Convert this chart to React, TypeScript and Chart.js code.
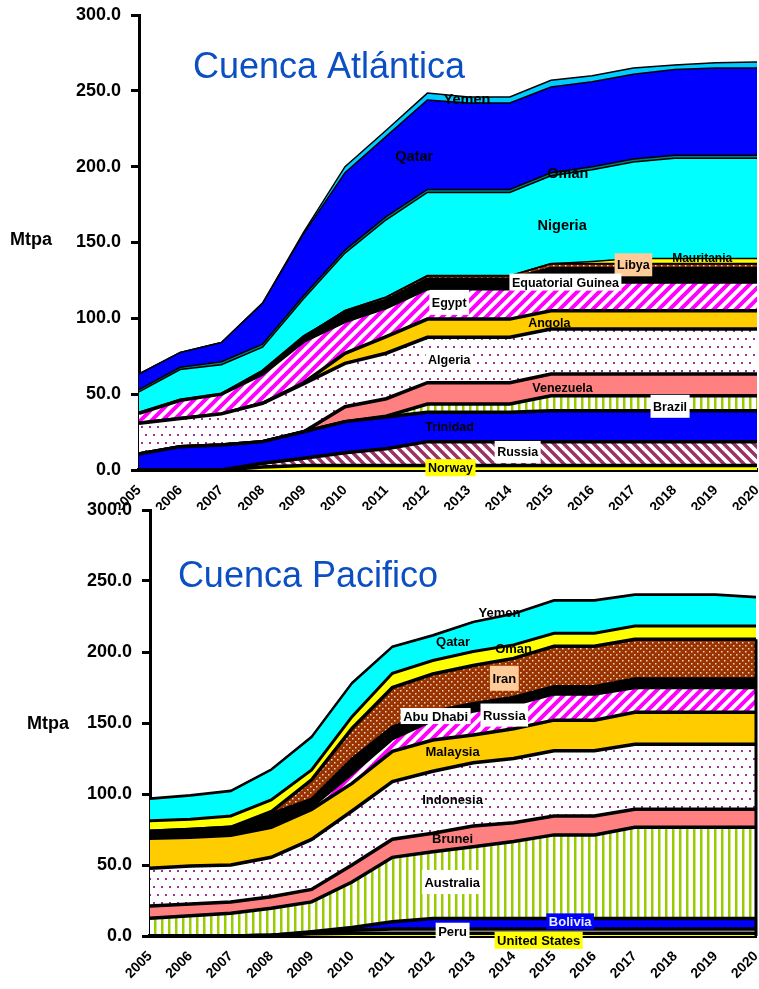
import React, { useEffect, useRef } from 'react';
import { Chart, registerables } from 'chart.js';

Chart.register(...registerables);

const FONT = '"Liberation Sans", Arial, Helvetica, sans-serif';

const years = ['2005', '2006', '2007', '2008', '2009', '2010', '2011', '2012', '2013', '2014', '2015', '2016', '2017', '2018', '2019', '2020'];
const yMin = 0;
const yMax = 300;
const yStep = 50;

// ---- Cuenca Atlántica (Mtpa) ----
const atlNorway = [0, 0, 0, 2, 3, 3, 3, 3, 3, 3, 3, 3, 3, 3, 3, 3];
const atlRussia = [0, 0, 0, 2.4, 4.7, 8.4, 11, 15.7, 15.7, 15.7, 15.7, 15.7, 15.7, 15.7, 15.7, 15.7];
const atlTrinidad = [10.5, 15.4, 16.5, 14.3, 17.5, 20.5, 21, 19.3, 19.3, 19.3, 20.3, 20.3, 20.3, 20.3, 20.3, 20.3];
const atlBrazil = [0, 0, 0, 0, 0, 0, 0.5, 5.5, 5.5, 5.5, 10, 10, 10, 10, 10, 10];
const atlVenezuela = [0, 0, 0, 0, 0, 9.8, 11.5, 14.1, 14.1, 14.1, 14.3, 14.3, 14.3, 14.3, 14.3, 14.3];
const atlAlgeria = [20.3, 18.6, 20.5, 25.3, 31.8, 28.6, 30, 29.9, 29.9, 29.9, 29.7, 29.7, 29.7, 29.7, 29.7, 29.7];
const atlAngola = [0, 0, 0, 0, 0.5, 6.6, 11, 12, 12, 12, 12, 12, 12, 12, 12, 12];
const atlEgypt = [6.6, 12, 13, 19.3, 27.5, 21.1, 19, 20, 20, 20, 19, 19, 19, 19, 19, 19];
const atlEqGuinea = [0, 0, 0, 2, 3, 6, 5, 6.5, 6.5, 6.5, 9, 9, 9, 9, 9, 9];
const atlLibya = [0, 0, 0, 0, 0, 1, 2, 2, 2, 2, 3, 3, 3, 3, 3, 3];
const atlMauritania = [0, 0, 0, 0, 0, 0, 0, 0, 0, 0, 0, 1.5, 3.5, 3.5, 3.5, 3.5];
const atlNigeria = [14.1, 20.2, 19.4, 15.7, 25, 38, 51, 55, 55, 55, 58, 60.5, 63.5, 66.1, 66.1, 66.1];
const atlOman = [1.5, 1.5, 2, 2, 2, 2, 2, 2, 2, 2, 2, 2, 2, 2, 2, 2];
const atlQatar = [10.3, 9.8, 12.6, 27, 41, 51, 53, 59, 57, 57, 56.5, 56, 56, 56.4, 57.4, 57.4];
const atlYemen = [0, 0, 0, 0, 1, 4, 4, 4.5, 4, 4, 4.5, 4, 4, 3, 3.5, 4];

// ---- Cuenca Pacifico (Mtpa) ----
const pacUS = [0, 0, 0, 0.5, 1.5, 2, 2, 2, 2, 2, 2, 2, 2, 2, 2, 2];
const pacPeru = [0, 0, 0, 0, 1, 2, 3, 3, 3, 3, 3, 3, 3, 3, 3, 3];
const pacBolivia = [0, 0, 0, 0, 0.5, 2, 5, 7.4, 7.4, 7.4, 7.4, 7.4, 7.4, 7.4, 7.4, 7.4];
const pacAustralia = [12.5, 14.3, 16, 19, 21, 32, 45.4, 47, 50.5, 54.1, 58.8, 58.8, 64.1, 64.1, 64.1, 64.1];
const pacBrunei = [8.6, 8.2, 8, 8.2, 8.8, 12, 12.7, 12.9, 14.6, 13.3, 13.3, 13.3, 12.7, 12.7, 12.7, 12.7];
const pacIndonesia = [26.6, 26.8, 26, 27.7, 35.2, 38, 40.6, 43.7, 44.5, 45.2, 46, 46, 45.8, 45.8, 45.8, 45.8];
const pacMalaysia = [21.1, 20.2, 21, 21.1, 21.2, 19.5, 21.3, 22, 19.5, 21, 21.5, 21.5, 22.5, 22.5, 22.5, 22.5];
const pacRussia = [0, 0, 0, 1.5, 2, 7, 9, 14, 17, 17, 18.5, 18.5, 17.5, 17.5, 17.5, 17.5];
const pacAbuDhabi = [5, 5.5, 5.5, 8, 5, 10, 8, 6, 5, 5, 5, 5, 6, 6, 6, 6];
const pacIran = [0, 0, 0, 1.5, 13.8, 21.7, 28, 26.5, 27, 27.5, 28.5, 28.5, 28, 28, 28, 28];
const pacOman = [7.4, 7.2, 8, 8.3, 6.9, 8.3, 10, 9.5, 9.8, 9.5, 9.2, 9.2, 9.3, 9.3, 9.3, 9.3];
const pacQatar = [15.3, 16.6, 17.4, 21.1, 23, 23.4, 18.5, 17.5, 20.6, 21.7, 22.9, 22.9, 21.8, 21.8, 21.8, 20.1];
const pacYemen = [0.5, 0.5, 0.5, 0.5, 0.5, 0.5, 0.5, 0.5, 0.5, 0.5, 0.5, 0.5, 0.5, 0.5, 0.5, 0.5];

type Fill = string;
type Series = { label: string; data: number[]; fill: Fill; border: number };

const atlSeries: Series[] = [
  { label: 'Norway', data: atlNorway, fill: 'yellow', border: 3.5 },
  { label: 'Russia', data: atlRussia, fill: 'maroonDown', border: 3.5 },
  { label: 'Trinidad', data: atlTrinidad, fill: 'blue', border: 3.5 },
  { label: 'Brazil', data: atlBrazil, fill: 'greenVert', border: 3.5 },
  { label: 'Venezuela', data: atlVenezuela, fill: 'salmon', border: 3.5 },
  { label: 'Algeria', data: atlAlgeria, fill: 'purpleDots', border: 3.5 },
  { label: 'Angola', data: atlAngola, fill: 'gold', border: 3.5 },
  { label: 'Egypt', data: atlEgypt, fill: 'magentaUp', border: 3.5 },
  { label: 'Equatorial Guinea', data: atlEqGuinea, fill: 'black', border: 3 },
  { label: 'Libya', data: atlLibya, fill: 'brownDots', border: 2 },
  { label: 'Mauritania', data: atlMauritania, fill: 'yellow', border: 1.5 },
  { label: 'Nigeria', data: atlNigeria, fill: 'cyan', border: 1.5 },
  { label: 'Oman', data: atlOman, fill: 'teal', border: 1.5 },
  { label: 'Qatar', data: atlQatar, fill: 'blue', border: 1.5 },
  { label: 'Yemen', data: atlYemen, fill: 'sky', border: 1.5 },
];

const pacSeries: Series[] = [
  { label: 'United States', data: pacUS, fill: 'yellow', border: 3.5 },
  { label: 'Peru', data: pacPeru, fill: 'white', border: 3.5 },
  { label: 'Bolivia', data: pacBolivia, fill: 'blue', border: 3.5 },
  { label: 'Australia', data: pacAustralia, fill: 'greenVert', border: 3.5 },
  { label: 'Brunei', data: pacBrunei, fill: 'salmon', border: 3.5 },
  { label: 'Indonesia', data: pacIndonesia, fill: 'purpleDots', border: 3.5 },
  { label: 'Malaysia', data: pacMalaysia, fill: 'gold', border: 3.5 },
  { label: 'Russia', data: pacRussia, fill: 'magentaUp', border: 3.5 },
  { label: 'Abu Dhabi', data: pacAbuDhabi, fill: 'black', border: 3.5 },
  { label: 'Iran', data: pacIran, fill: 'brownDots', border: 3.5 },
  { label: 'Oman', data: pacOman, fill: 'yellow', border: 3 },
  { label: 'Qatar', data: pacQatar, fill: 'cyan', border: 2 },
  { label: 'Yemen', data: pacYemen, fill: 'darkPurple', border: 2 },
];

// annotations: text placed at (category index, value)
type Note = { text: string; x: number; v: number; size: number; bg?: string; color?: string; h?: number };

const atlNotes: Note[] = [
  { text: 'Yemen', x: 7.96, v: 244.6, size: 14.5 },
  { text: 'Qatar', x: 6.68, v: 207, size: 14.5 },
  { text: 'Oman', x: 10.41, v: 195.6, size: 14.5 },
  { text: 'Nigeria', x: 10.27, v: 161.5, size: 14.5 },
  { text: 'Mauritania', x: 13.67, v: 140.2, size: 12 },
  { text: 'Libya', x: 12.0, v: 135.3, size: 12.5, bg: '#ffcc99', h: 23 },
  { text: 'Equatorial Guinea', x: 10.35, v: 123.9, size: 12.5, bg: '#ffffff', h: 17 },
  { text: 'Egypt', x: 7.53, v: 110.5, size: 12.5, bg: '#ffffff', h: 25 },
  { text: 'Angola', x: 9.96, v: 97.1, size: 12.5 },
  { text: 'Algeria', x: 7.53, v: 72.5, size: 12.5, bg: '#ffffff', h: 20 },
  { text: 'Venezuela', x: 10.28, v: 54.5, size: 12.5 },
  { text: 'Brazil', x: 12.89, v: 42, size: 12.5, bg: '#ffffff', h: 23 },
  { text: 'Trinidad', x: 7.54, v: 28.5, size: 12.5 },
  { text: 'Russia', x: 9.19, v: 11.9, size: 12.5, bg: '#ffffff', h: 22 },
  { text: 'Norway', x: 7.56, v: 1.5, size: 12.5, bg: '#ffff00', h: 17 },
];

const pacNotes: Note[] = [
  { text: 'Yemen', x: 8.65, v: 227.7, size: 13 },
  { text: 'Qatar', x: 7.5, v: 207.3, size: 13 },
  { text: 'Oman', x: 9.0, v: 202.6, size: 13 },
  { text: 'Iran', x: 8.77, v: 181.5, size: 13, bg: '#ffcc99', h: 25 },
  { text: 'Abu Dhabi', x: 7.07, v: 154.9, size: 13, bg: '#ffffff', h: 16 },
  { text: 'Russia', x: 8.77, v: 155.6, size: 13, bg: '#ffffff', h: 23 },
  { text: 'Malaysia', x: 7.49, v: 129.8, size: 13 },
  { text: 'Indonesia', x: 7.49, v: 96.3, size: 13 },
  { text: 'Brunei', x: 7.49, v: 68.8, size: 13 },
  { text: 'Australia', x: 7.48, v: 38, size: 13, bg: '#ffffff', h: 24 },
  { text: 'Bolivia', x: 10.4, v: 10.3, size: 13, bg: '#0000ff', color: '#e8f0ff', h: 16 },
  { text: 'Peru', x: 7.49, v: 3.0, size: 13, bg: '#ffffff', h: 18 },
  { text: 'United States', x: 9.62, v: -3.0, size: 13, bg: '#ffff00', h: 17 },
];

function tile(ctx: CanvasRenderingContext2D, w: number, h: number, paint: (g: CanvasRenderingContext2D) => void) {
  const c = document.createElement('canvas');
  c.width = w;
  c.height = h;
  const g = c.getContext('2d') as CanvasRenderingContext2D;
  paint(g);
  return ctx.createPattern(c, 'repeat') as CanvasPattern;
}

function diag(ctx: CanvasRenderingContext2D, color: string, up: boolean, size: number, width: number) {
  return tile(ctx, size, size, (g) => {
    g.fillStyle = '#ffffff';
    g.fillRect(0, 0, size, size);
    g.strokeStyle = color;
    g.lineWidth = width;
    g.beginPath();
    for (const o of [-size, 0, size]) {
      if (up) {
        g.moveTo(o - 1, size + 1);
        g.lineTo(o + size + 1, -1);
      } else {
        g.moveTo(o - 1, -1);
        g.lineTo(o + size + 1, size + 1);
      }
    }
    g.stroke();
  });
}

function makeFills(ctx: CanvasRenderingContext2D): Record<string, string | CanvasPattern> {
  return {
    yellow: '#ffff00',
    white: '#ffffff',
    blue: '#0000ff',
    salmon: '#ff8080',
    gold: '#ffcc00',
    black: '#000000',
    cyan: '#00ffff',
    teal: '#008080',
    sky: '#00ccff',
    darkPurple: '#330033',
    maroonDown: diag(ctx, '#993366', false, 10, 3.5),
    magentaUp: diag(ctx, '#ff00ff', true, 11, 4),
    greenVert: tile(ctx, 7, 4, (g) => {
      g.fillStyle = '#ffffff';
      g.fillRect(0, 0, 7, 4);
      g.fillStyle = '#99cc00';
      g.fillRect(0, 0, 2.5, 4);
    }),
    purpleDots: tile(ctx, 8, 16, (g) => {
      g.fillStyle = '#ffffff';
      g.fillRect(0, 0, 8, 16);
      g.fillStyle = '#993399';
      g.fillRect(1, 2, 2, 2);
      g.fillRect(5, 10, 2, 2);
    }),
    brownDots: tile(ctx, 6, 6, (g) => {
      g.fillStyle = '#993300';
      g.fillRect(0, 0, 6, 6);
      g.fillStyle = '#f3d6c8';
      g.fillRect(1, 1, 1.5, 1.5);
      g.fillRect(4, 4, 1.5, 1.5);
    }),
  };
}

type Layout = {
  yWidth: number;
  xHeight: number;
  padTop: number;
  padRight: number;
  title: string;
  titleX: number;
  titleV: number;
  mtpaX: number;
  mtpaV: number;
  edgeSeries: number; // number of lower series closed by a vertical edge line at the last year (0 = none)
};

function build(canvas: HTMLCanvasElement, series: Series[], notes: Note[], lay: Layout) {
  const ctx = canvas.getContext('2d') as CanvasRenderingContext2D;
  const fills = makeFills(ctx);

  const annot = {
    id: 'annot',
    afterDatasetsDraw(chart: any) {
      if (!lay.edgeSeries) return;
      const c: CanvasRenderingContext2D = chart.ctx;
      const xs = chart.scales.x;
      const ys = chart.scales.y;
      const last = years.length - 1;
      let top = 0;
      for (let k = 0; k < lay.edgeSeries; k++) top += series[k].data[last];
      const px = xs.getPixelForValue(last);
      c.save();
      c.strokeStyle = '#000';
      c.lineWidth = 3;
      c.beginPath();
      c.moveTo(px, ys.getPixelForValue(top));
      c.lineTo(px, ys.getPixelForValue(0));
      c.stroke();
      c.restore();
    },
    afterDraw(chart: any) {
      const c: CanvasRenderingContext2D = chart.ctx;
      const xs = chart.scales.x;
      const ys = chart.scales.y;
      c.save();
      // title
      c.font = `36px ${FONT}`;
      c.fillStyle = '#0b4fc2';
      c.textAlign = 'left';
      c.textBaseline = 'alphabetic';
      c.fillText(lay.title, xs.getPixelForValue(lay.titleX), ys.getPixelForValue(lay.titleV));
      // axis unit
      c.font = `bold 18px ${FONT}`;
      c.fillStyle = '#000';
      c.fillText('Mtpa', lay.mtpaX, ys.getPixelForValue(lay.mtpaV));
      // series labels
      for (const n of notes) {
        c.font = `bold ${n.size}px ${FONT}`;
        const px = xs.getPixelForValue(n.x);
        const py = ys.getPixelForValue(n.v);
        if (n.bg) {
          const w = c.measureText(n.text).width + 5;
          const h = n.h ?? n.size + 6;
          c.fillStyle = n.bg;
          c.fillRect(px - w / 2, py - h / 2, w, h);
        }
        c.fillStyle = n.color ?? '#000';
        c.textAlign = 'center';
        c.textBaseline = 'middle';
        c.fillText(n.text, px, py + 1);
      }
      c.restore();
    },
  };

  return new Chart(canvas, {
    type: 'line',
    data: {
      labels: years,
      datasets: series.map((s, i) => ({
        label: s.label,
        data: s.data,
        backgroundColor: fills[s.fill] as any,
        borderColor: '#000000',
        borderWidth: s.border,
        fill: i === 0 ? 'origin' : '-1',
        pointRadius: 0,
        tension: 0,
        borderJoinStyle: 'miter',
      })),
    },
    options: {
      responsive: false,
      animation: false,
      events: [],
      layout: { padding: { top: lay.padTop, right: lay.padRight, left: 0, bottom: 0 } },
      plugins: {
        legend: { display: false },
        tooltip: { enabled: false },
        title: { display: false },
      },
      scales: {
        x: {
          type: 'category',
          offset: false,
          grid: { display: false, drawTicks: false },
          border: { display: true, color: '#000', width: 4 },
          ticks: {
            autoSkip: false,
            maxRotation: 45,
            minRotation: 45,
            padding: 12,
            color: '#000',
            font: { family: FONT, size: 14, weight: 'bold' },
          },
          afterFit: (s: any) => {
            s.height = lay.xHeight;
            s.paddingLeft = 0;
            s.paddingRight = 0;
          },
        },
        y: {
          stacked: true,
          min: yMin,
          max: yMax,
          ticks: {
            stepSize: yStep,
            padding: 10,
            color: '#000',
            font: { family: FONT, size: 18, weight: 'bold' },
            callback: (v: any) => Number(v).toFixed(1),
          },
          grid: { drawOnChartArea: false, drawTicks: true, tickLength: 8, lineWidth: 3, color: '#000' },
          border: { display: true, color: '#000', width: 3 },
          afterFit: (s: any) => {
            s.width = lay.yWidth;
            s.paddingTop = 0;
            s.paddingBottom = 0;
          },
        },
      },
    } as any,
    plugins: [annot],
  });
}

export default function App() {
  const topRef = useRef<HTMLCanvasElement>(null);
  const botRef = useRef<HTMLCanvasElement>(null);

  useEffect(() => {
    const charts: Chart[] = [];
    if (topRef.current) {
      charts.push(
        build(topRef.current, atlSeries, atlNotes, {
          yWidth: 139,
          xHeight: 40,
          padTop: 15,
          padRight: 2,
          title: 'Cuenca Atlántica',
          titleX: 1.31,
          titleV: 258.4,
          mtpaX: 10,
          mtpaV: 148.3,
          edgeSeries: 0,
        })
      );
    }
    if (botRef.current) {
      charts.push(
        build(botRef.current, pacSeries, pacNotes, {
          yWidth: 150,
          xHeight: 53,
          padTop: 10,
          padRight: 3,
          title: 'Cuenca Pacifico',
          titleX: 0.69,
          titleV: 245.8,
          mtpaX: 27,
          mtpaV: 145.8,
          edgeSeries: 10,
        })
      );
    }
    return () => charts.forEach((c) => c.destroy());
  }, []);

  return (
    <div style={{ position: 'absolute', left: 0, top: 0, width: 759, height: 989, background: '#fff' }}>
      <canvas ref={topRef} width={759} height={510} style={{ position: 'absolute', left: 0, top: 0 }} />
      <canvas ref={botRef} width={759} height={489} style={{ position: 'absolute', left: 0, top: 500 }} />
    </div>
  );
}
